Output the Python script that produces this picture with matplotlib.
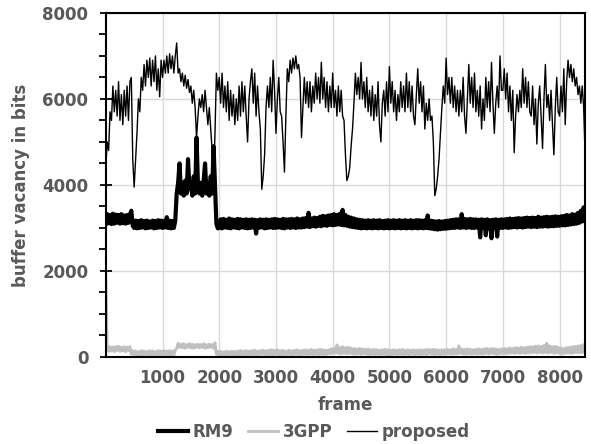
import numpy as np
import matplotlib
matplotlib.use("Agg")
import matplotlib.pyplot as plt
from matplotlib.ticker import MultipleLocator

step = 25

rm9 = [
    3100, 3320, 3110, 3300, 3090, 3330, 3100, 3310, 3120, 3300, 3100, 3320, 3110, 3290, 3100, 3300, 3120, 3310, 3400, 3050,
    3000, 3170, 2990, 3160, 3000, 3180, 3010, 3160, 2990, 3170, 3000, 3150, 3010, 3170, 2990, 3160, 3000, 3180, 3010, 3170,
    3000, 3160, 3010, 3250, 3000, 3170, 2990, 3160, 3000, 3170, 3800, 4050, 4500, 3800, 4050, 3750, 4100, 3800, 4600, 3900,
    4050, 3750, 4200, 3800, 5100, 4000, 3800, 4050, 3750, 4100, 4500, 3800, 4050, 3750, 4200, 3800, 4900, 4000, 3100, 2990,
    3000, 3200, 2990, 3210, 3010, 3190, 3000, 3220, 2990, 3200, 3010, 3190, 3000, 3210, 2990, 3200, 3010, 3190, 3000, 3200,
    2990, 3190, 3000, 3200, 3010, 3190, 2870, 3180, 3000, 3200, 3010, 3190, 2990, 3200, 3000, 3190, 3010, 3200, 3000, 3210,
    3000, 3200, 3010, 3190, 3000, 3210, 2990, 3200, 3010, 3200, 3000, 3210, 3010, 3200, 3000, 3220, 3010, 3200, 3010, 3220,
    3020, 3230, 3030, 3350, 3020, 3220, 3040, 3240, 3030, 3230, 3050, 3260, 3040, 3280, 3060, 3270, 3050, 3290, 3070, 3300,
    3060, 3320, 3070, 3300, 3080, 3330, 3070, 3420, 3060, 3300, 3050, 3260, 3030, 3240, 3020, 3220, 3010, 3200, 3000, 3190,
    2990, 3180, 3000, 3170, 2990, 3180, 3000, 3170, 2990, 3180, 3000, 3170, 2990, 3180, 3000, 3160, 2990, 3170, 3000, 3180,
    2990, 3170, 3000, 3180, 2990, 3170, 3000, 3180, 2990, 3170, 3000, 3180, 2990, 3170, 3000, 3180, 2990, 3170, 3000, 3180,
    2990, 3180, 3000, 3170, 2990, 3180, 3000, 3290, 2990, 3170, 2980, 3160, 2970, 3150, 2960, 3160, 2970, 3150, 2980, 3160,
    2980, 3170, 2990, 3180, 3000, 3190, 3000, 3200, 3010, 3200, 3000, 3320, 3010, 3210, 3000, 3200, 3010, 3210, 3000, 3200,
    3000, 3200, 3010, 3190, 2780, 3200, 3000, 3190, 2830, 3200, 2990, 3180, 2760, 3190, 3000, 3200, 2800, 3190, 3000, 3200,
    3000, 3200, 3010, 3210, 3000, 3220, 3010, 3210, 3020, 3220, 3010, 3230, 3020, 3220, 3010, 3230, 3020, 3240, 3030, 3230,
    3020, 3240, 3030, 3230, 3020, 3260, 3030, 3240, 3030, 3250, 3040, 3260, 3030, 3250, 3040, 3260, 3040, 3270, 3050, 3260,
    3050, 3270, 3060, 3280, 3060, 3300, 3070, 3290, 3080, 3320, 3090, 3310, 3100, 3350, 3120, 3400, 3150, 3480, 3200,
]

gpp = [
    2000, 250, 130, 240, 140, 230, 120, 240, 150, 250, 130, 230, 140, 240, 120, 230, 150, 240, 60, 150,
    40, 140, 50, 130, 30, 150, 40, 140, 50, 130, 40, 150, 30, 140, 50, 130, 40, 150, 50, 140,
    40, 150, 50, 140, 30, 150, 50, 140, 40, 160, 200, 320, 220, 300, 210, 310, 200, 290, 220, 310,
    210, 300, 200, 290, 220, 300, 210, 290, 220, 310, 200, 290, 210, 300, 220, 290, 200, 330, 60, 130,
    40, 130, 30, 120, 40, 140, 30, 130, 50, 140, 40, 130, 30, 140, 40, 150, 50, 140, 40, 150,
    40, 140, 50, 150, 40, 160, 50, 140, 40, 150, 60, 160, 50, 150, 40, 160, 50, 170, 40, 160,
    60, 170, 50, 150, 40, 160, 50, 140, 60, 160, 40, 150, 50, 160, 60, 170, 40, 150, 50, 160,
    60, 170, 50, 160, 60, 180, 50, 160, 60, 170, 50, 180, 60, 170, 50, 160, 60, 170, 70, 190,
    80, 200, 90, 280, 80, 220, 70, 240, 80, 220, 70, 230, 80, 210, 70, 200, 60, 190, 70, 200,
    60, 190, 70, 180, 60, 190, 50, 170, 60, 180, 50, 170, 60, 160, 50, 170, 60, 180, 50, 170,
    40, 160, 50, 170, 60, 160, 50, 170, 60, 180, 50, 160, 60, 170, 50, 160, 60, 170, 50, 160,
    60, 170, 50, 160, 60, 170, 50, 180, 70, 170, 60, 180, 50, 170, 60, 160, 50, 170, 60, 170,
    60, 180, 70, 170, 60, 190, 70, 180, 70, 260, 80, 190, 70, 180, 60, 190, 70, 180, 60, 170,
    70, 180, 60, 190, 70, 180, 60, 190, 80, 200, 70, 190, 80, 200, 70, 190, 60, 180, 70, 190,
    80, 200, 70, 190, 80, 210, 90, 200, 80, 220, 90, 210, 80, 230, 90, 220, 80, 230, 90, 240,
    90, 240, 100, 250, 90, 260, 100, 250, 90, 270, 100, 320, 90, 260, 100, 240, 80, 250, 90, 230,
    80, 210, 70, 200, 80, 220, 90, 230, 80, 240, 90, 250, 100, 260, 90, 270, 100, 290, 280,
]

proposed = [
    4400, 5000, 4800, 5700, 5500, 6300, 5700, 6200, 5600, 6400, 5500, 6100, 5400, 6200, 5600, 6300, 5500, 6400, 6500, 4600,
    3950, 4600, 5200, 6000, 5700, 6500, 6200, 6800, 6300, 6900, 6500, 6950, 6300, 6900, 6400, 7000, 6200, 6700, 6050, 6900,
    6500, 6900, 6600, 7000, 6600, 7050, 6700, 7000, 6600, 7000, 7300, 6600, 6700, 6400, 6600, 6300, 6550, 6250, 6450, 6150,
    6300, 5900, 6200, 5800, 5100, 5600, 6000, 5800, 6100, 5700, 6200, 5800, 5400, 5800, 5300, 4800, 4100, 5200, 6600, 6200,
    6500, 5900, 6600, 5800, 6300, 5700, 6400, 5500, 6200, 5600, 6100, 5400, 6000, 5500, 6300, 5600, 6400, 5700, 6300, 5600,
    5000, 6000, 6400, 6700, 5900, 6600, 5600, 6300, 5700, 5300, 3900, 4200, 4700, 5800, 6300, 5800, 6500, 5700, 6900, 6200,
    5200, 6000, 6500, 5700, 5600, 5000, 4300, 5600, 6700, 6400, 6900, 6600, 6950, 6700, 7000, 6700, 6800, 6500, 5100, 5800,
    6500, 5900, 6400, 5800, 6400, 5700, 6300, 5900, 6600, 6000, 6500, 5900, 6850, 6000, 6500, 5800, 6400, 5700, 6300, 5800,
    6600, 5800, 6200, 5600, 6300, 5700, 6200, 5600, 5500, 4700, 4100, 4200, 4400, 4900, 5300, 5900, 6600, 6100, 6500, 6000,
    6850, 6000, 6400, 5800, 6500, 5700, 6200, 5600, 6300, 5500, 6100, 5600, 6400, 5400, 5000, 5900, 6200, 5600, 6400, 5700,
    6750, 5900, 6400, 5700, 6200, 5500, 6100, 5700, 6400, 5800, 6300, 5700, 6600, 5800, 6400, 5700, 6300, 5600, 5400, 6100,
    6700, 5900, 6400, 5700, 6300, 5300, 5900, 5500, 6000, 5500, 5600, 5000, 3750, 3900, 4200, 4600, 5200, 5800, 6300, 5900,
    6950, 6100, 6500, 5900, 6500, 5800, 6300, 5700, 6200, 5600, 6200, 5700, 6500, 5600, 5200, 6000, 6800, 5900, 6500, 5800,
    6600, 5700, 6200, 5600, 6300, 5300, 6000, 5500, 6500, 5800, 6400, 5700, 6850, 5900, 5200, 5900, 6300, 5800, 7000, 6200,
    6200, 6700, 6000, 6600, 5700, 6300, 5500, 6200, 4750, 5600, 6100, 5700, 6200, 5800, 6700, 5900, 6500, 5800, 6400, 5700,
    5600, 6300, 5400, 6000, 4950, 5900, 6300, 5600, 4850, 6000, 6800, 5800, 6100, 5500, 6200, 5400, 4700, 5800, 6500, 5700,
    5600, 6300, 5700, 6700, 5400, 6400, 6900, 6500, 6800, 6400, 6700, 6300, 6500, 6100, 6300, 5900, 6300, 5800, 4700,
]

frames = np.arange(len(proposed)) * step
grey = '#595959'

plt.rcParams['font.family'] = ['DejaVu Sans']

fig = plt.figure(figsize=(5.91, 4.44), dpi=100)
ax = fig.add_axes([0.179, 0.196, 0.811, 0.775])

ax.plot(frames, rm9, color='black', lw=3.0, label='RM9')
ax.plot(frames, gpp, color='#bfbfbf', lw=2.0, label='3GPP')
ax.plot(frames, proposed, color='black', lw=1.0, label='proposed')

ax.set_xlim(0, frames[-1])
ax.set_ylim(0, 8000)
ax.set_xticks(np.arange(1000, 9000, 1000))
ax.set_yticks(np.arange(0, 9000, 2000))
ax.yaxis.set_minor_locator(MultipleLocator(500))
ax.grid(True, color='#d9d9d9', lw=1.0)
ax.set_axisbelow(True)

for s in ax.spines.values():
    s.set_linewidth(1.5)

ax.tick_params(axis='x', length=0, pad=9, labelsize=12, labelcolor=grey)
ax.tick_params(axis='y', which='major', direction='inout', length=9, width=1.3,
               pad=8, labelsize=12, labelcolor=grey)
ax.tick_params(axis='y', which='minor', direction='out', length=5, width=1.3)
for lab in ax.get_xticklabels() + ax.get_yticklabels():
    lab.set_fontweight('bold')

ax.set_xlabel('frame', fontsize=12, fontweight='bold', color=grey, labelpad=6)
ax.set_ylabel('buffer vacancy in bits', fontsize=12, fontweight='bold', color=grey, labelpad=9)

leg = fig.legend(loc='center', bbox_to_anchor=(0.531, 0.027), ncol=3, frameon=False,
                 handlelength=1.8, handletextpad=0.25, columnspacing=0.9,
                 prop={'size': 12, 'weight': 'bold'})
for t in leg.get_texts():
    t.set_color(grey)

fig.savefig('out.png', dpi=100)
